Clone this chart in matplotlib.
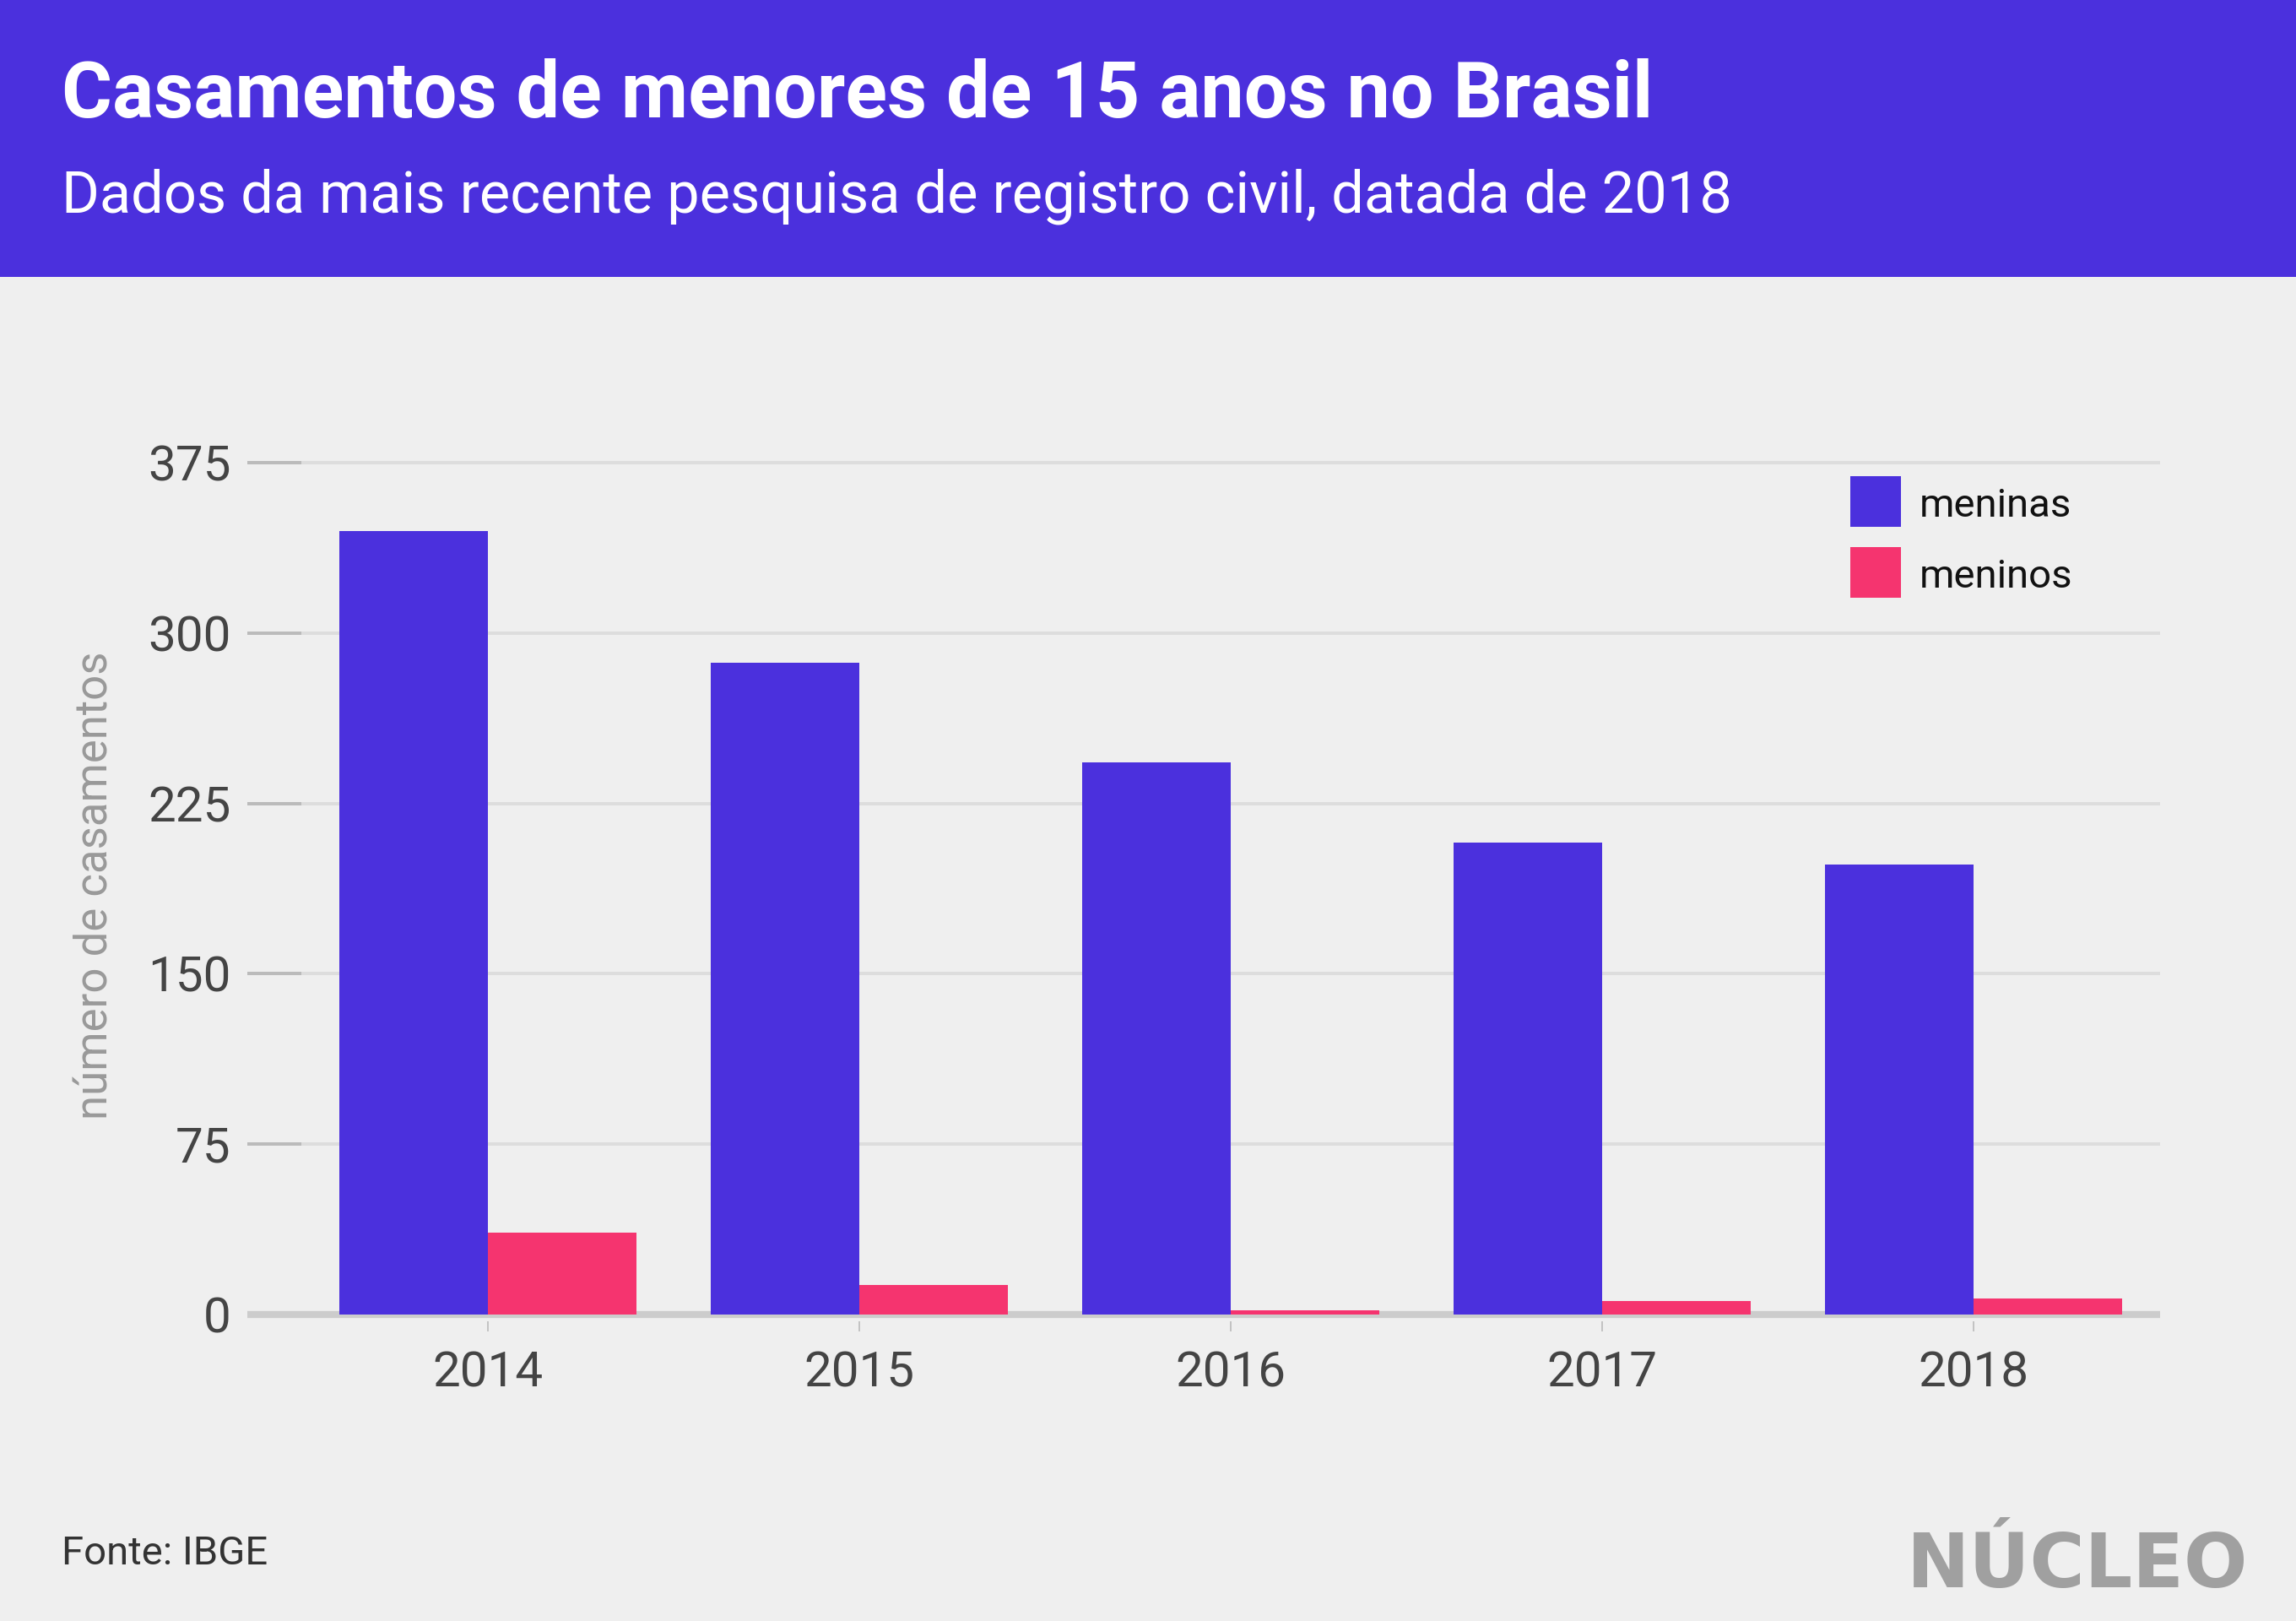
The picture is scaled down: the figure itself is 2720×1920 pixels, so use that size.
import numpy as np
import matplotlib
matplotlib.use("Agg")
import matplotlib.pyplot as plt
from matplotlib.patches import Rectangle

# dados (IBGE, registro civil)
years = ["2014", "2015", "2016", "2017", "2018"]
meninas = [345, 287, 243, 208, 198]
meninos = [36, 13, 2, 6, 7]
yticks = [0, 75, 150, 225, 300, 375]

purple = "#4B30DD"
pink = "#F5346F"
bg = "#EFEFEF"

plt.rcParams['font.family'] = ['Roboto', 'DejaVu Sans']

W, H = 2720, 1920
fig = plt.figure(figsize=(13.6, 9.6), dpi=200, facecolor=bg)

# faixa do cabecalho
fig.patches.append(Rectangle((0, 1 - 328 / H), 1, 328 / H, transform=fig.transFigure,
                             facecolor=purple, edgecolor="none", zorder=0))
fig.text(73 / W, 1 - 139 / H, "Casamentos de menores de 15 anos no Brasil",
         color="white", fontsize=33, fontweight="bold", va="baseline", ha="left")
fig.text(73 / W, 1 - 252 / H, "Dados da mais recente pesquisa de registro civil, datada de 2018",
         color="white", fontsize=24.7, va="baseline", ha="left")

# eixo
left, right = 293 / W, 2559 / W
bottom = 1 - 1565 / H
top = 1 - 508 / H
ax = fig.add_axes([left, bottom, right - left, top - bottom])
ax.set_facecolor(bg)

x = np.arange(len(years))
ax.bar(x - 0.2, meninas, width=0.4, color=purple, zorder=3)
ax.bar(x + 0.2, meninos, width=0.4, color=pink, zorder=3)

ax.set_xlim(-0.647, 4.503)
ax.set_ylim(-3, 390)
ax.set_yticks(yticks)
ax.set_yticklabels([str(v) for v in yticks])
ax.set_xticks(x)
ax.set_xticklabels(years)

ax.yaxis.grid(True, color="#DDDDDD", linewidth=1.44, zorder=0)
ax.set_axisbelow(True)
ax.axhline(0, color="#CCCCCC", linewidth=3, zorder=2)

for s in ax.spines.values():
    s.set_visible(False)

ax.tick_params(axis="y", direction="in", length=23, width=1.44, color="#BBBBBB",
               labelsize=21, labelcolor="#444444", pad=7)
ax.tick_params(axis="x", direction="out", length=4.3, width=0.6, color="#BBBBBB",
               labelsize=21, labelcolor="#444444", pad=8)
for t in ax.get_yticklines():
    t.set_zorder(4)

fig.text(113 / W, 1 - 1049 / H, "número de casamentos", rotation=90,
         color="#999999", fontsize=19, ha="center", va="center")

# legenda
for lab, col, y0 in [("meninas", purple, 564), ("meninos", pink, 648)]:
    fig.patches.append(Rectangle((2192 / W, 1 - (y0 + 60) / H), 60 / W, 60 / H,
                                 transform=fig.transFigure, facecolor=col, edgecolor="none"))
    fig.text(2274 / W, 1 - (y0 + 30) / H, lab, color="#111111", fontsize=17,
             ha="left", va="center_baseline")

# rodape
fig.text(73 / W, 1 - 1853 / H, "Fonte: IBGE", color="#333333", fontsize=17,
         ha="left", va="baseline")
fig.text(2663 / W, 1 - 1880 / H, "NÚCLEO", color="#A0A0A0", fontsize=32,
         fontweight="bold", family="DejaVu Sans", ha="right", va="baseline")

fig.savefig("out.png", dpi=200, facecolor=bg)
